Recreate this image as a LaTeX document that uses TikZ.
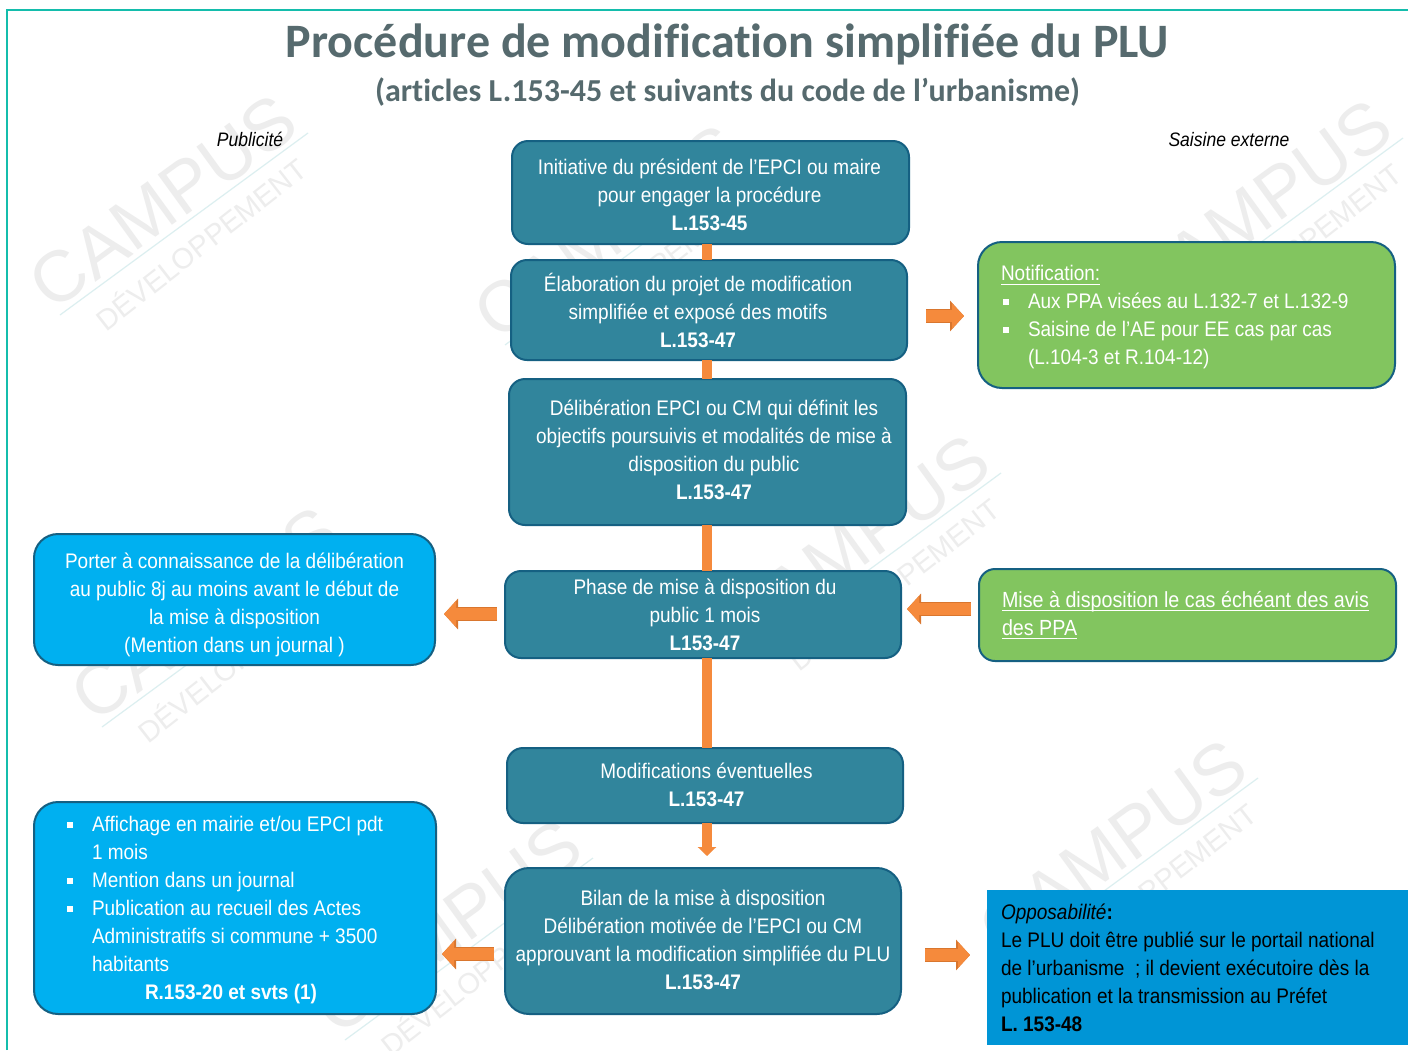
\documentclass[tikz,border=0pt]{standalone}
\usepackage{fontspec}
\usetikzlibrary{arrows.meta}
\setmainfont{Liberation Sans}[FakeStretch=0.9]
\newfontfamily\titlefont{Carlito}[Ligatures={NoCommon}]
\newfontfamily\plainsans{Liberation Sans}
\definecolor{frameteal}{HTML}{14BDAC}
\definecolor{boxteal}{HTML}{31859C}
\definecolor{boxedge}{HTML}{156082}
\definecolor{boxblue}{HTML}{00B0F0}
\definecolor{boxgreen}{HTML}{82C55F}
\definecolor{oppblue}{HTML}{0095D6}
\definecolor{arroworange}{HTML}{F58A3C}
\definecolor{arrowedge}{HTML}{D9762E}
\definecolor{titlegrey}{HTML}{566A6E}
\definecolor{wmgrey}{HTML}{EDEDED}
\definecolor{wmline}{HTML}{DCEFF0}
\newcommand\tb[3]{\hspace*{#1pt}\raisebox{\dimexpr-5.4pt-#2pt\relax}[0pt][0pt]{\begin{tabular}{@{}c@{}}#3\end{tabular}}}
\newcommand\sq{\makebox[27pt][l]{\hspace{2pt}\raisebox{4pt}{\rule{6pt}{6pt}}}}
\newcommand\ulin[1]{\leavevmode\hbox{\setbox0\hbox{#1}\rlap{\rule[-4pt]{\wd0}{1.2pt}}\box0}}
\newcommand\wmark[3]{%
  \begin{scope}[shift={(#2,#3)}]
    \node[wmbig] (wmc#1) at (163,202) {CAMPUS};
    \node[wmsmall] (wmd#1) at (200,243) {DÉVELOPPEMENT};
    \draw[wmline,line width=1.2pt] (60,315) -- (308,133);
  \end{scope}}
\tikzset{
  x=1pt,y=-1pt,
  every node/.style={inner sep=0pt,outer sep=0pt},
  wmbig/.style={font=\plainsans\fontsize{72}{72}\selectfont,text=wmgrey,rotate=36},
  wmsmall/.style={font=\plainsans\fontsize{29}{29}\selectfont,text=wmgrey,rotate=38},
  tealbox/.style={draw=boxedge,line width=2pt,fill=boxteal,rounded corners=16pt,text=white,font=\fontsize{21.1}{28}\selectfont},
  greenbox/.style={tealbox,fill=boxgreen,rounded corners=24pt},
  bluebox/.style={tealbox,fill=boxblue,rounded corners=24pt},
  spine/.style={draw=arroworange,line width=10pt},
  blockarrow/.style={draw=arroworange,line width=11.5pt,-{Triangle[length=12pt,width=25pt,fill=arroworange]},
    preaction={draw=arrowedge,line width=14pt,-{Triangle[length=14pt,width=30pt]}}},
  downarrow/.style={draw=arroworange,line width=10pt,-{Triangle[length=9pt,width=18pt,fill=arroworange]}},
}
\begin{document}
\begin{tikzpicture}
\useasboundingbox (0,0) rectangle (1408,1050);
\fill[white] (0,0) rectangle (1408,1050);
\wmark{a}{0}{0}
\wmark{b}{445}{30}
\wmark{c}{1095}{5}
\wmark{d}{42}{412}
\wmark{e}{693}{340}
\wmark{f}{285}{725}
\wmark{g}{950}{645}
\draw[frameteal,line width=1.5pt] (7,1050) -- (7,10) -- (1408,10);
\node[font=\titlefont\bfseries\fontsize{48}{48}\selectfont,text=titlegrey] (title) at (727.5,44) {Procédure de modification simplifiée du PLU};
\node[font=\titlefont\bfseries\fontsize{32}{32}\selectfont,text=titlegrey] (subtitle) at (727.5,92) {(articles L.153-45 et suivants du code de l’urbanisme)};
\node[font=\itshape\fontsize{19.5}{24}\selectfont] (pub) at (250,139) {Publicité};
\node[font=\itshape\fontsize{19.5}{24}\selectfont] (sais) at (1229,140) {Saisine externe};
\node[tealbox,minimum width=397pt,minimum height=103pt] (b1) at (710.5,192.5) {\tb{-2}{4}{Initiative du président de l’EPCI ou maire\\pour engager la procédure\\\textbf{L.153-45}}};
\node[tealbox,minimum width=396pt,minimum height=100pt] (b2) at (709,310) {\tb{-22}{4}{Élaboration du projet de modification\\simplifiée et exposé des motifs\\\textbf{L.153-47}}};
\node[tealbox,minimum width=397pt,minimum height=146pt] (b3) at (707.5,452) {\tb{13}{0}{Délibération EPCI ou CM qui définit les\\objectifs poursuivis et modalités de mise à\\disposition du public\\\textbf{L.153-47}}};
\node[tealbox,minimum width=396pt,minimum height=87pt] (b4) at (703,614.5) {\tb{4}{2}{Phase de mise à disposition du\\public 1 mois\\\textbf{L153-47}}};
\node[tealbox,minimum width=396pt,minimum height=75pt] (b5) at (705,785.5) {\tb{3}{1}{Modifications éventuelles\\\textbf{L.153-47}}};
\node[tealbox,rounded corners=24pt,minimum width=396pt,minimum height=146pt] (b6) at (703,941) {\tb{0}{0.5}{Bilan de la mise à disposition\\Délibération motivée de l’EPCI ou CM\\approuvant la modification simplifiée du PLU\\\textbf{L.153-47}}};
\node[bluebox,minimum width=401pt,minimum height=131pt] (l1) at (234.5,599.5) {\tb{0}{5}{Porter à connaissance de la délibération\\au public 8j au moins avant le début de\\la mise à disposition\\(Mention dans un journal )}};
\node[bluebox,text width=340pt,inner xsep=31pt,minimum height=212pt,align=flush left] (l2) at (235,908) {\rule{0pt}{20pt}\sq Affichage en mairie et/ou EPCI pdt\\\hspace*{27pt}1 mois\\\sq Mention dans un journal\\\sq Publication au recueil des Actes\\\hspace*{27pt}Administratifs si commune + 3500\\\hspace*{27pt}habitants\\\hspace*{80pt}\textbf{R.153-20 et svts (1)}};
\node[greenbox,text width=371pt,inner xsep=23pt,minimum height=146pt,align=flush left] (g1) at (1186.5,315) {\rule{0pt}{20pt}\ulin{Notification:}\\\sq Aux PPA visées au L.132-7 et L.132-9\\\sq Saisine de l’AE pour EE cas par cas\\\hspace*{27pt}(L.104-3 et R.104-12)};
\node[greenbox,rounded corners=16pt,font=\fontsize{21.9}{28}\selectfont,text width=371pt,inner xsep=23pt,minimum height=92pt,align=flush left] (g2) at (1187.5,615) {\ulin{Mise à disposition le cas échéant des avis}\\\ulin{des PPA}};
\node[fill=oppblue,text=black,font=\fontsize{21.1}{28}\selectfont,text width=393pt,inner xsep=14pt,minimum height=155pt,align=flush left] (opp) at (1197.5,967.5) {\textit{Opposabilité}\textbf{:}\\Le PLU doit être publié sur le portail national\\de l’urbanisme\ \ ; il devient exécutoire dès la\\publication et la transmission au Préfet\\\textbf{L. 153-48}};
\coordinate (sp) at (707,0);
\draw[spine] (b1.south -| sp) -- (b2.north -| sp);
\draw[spine] (b2.south -| sp) -- (b3.north -| sp);
\draw[spine] (b3.south -| sp) -- (b4.north -| sp);
\draw[spine] (b4.south -| sp) -- (b5.north -| sp);
\coordinate (d6) at (707,856);
\draw[downarrow] (b5.south -| sp) -- (d6);
\coordinate (a1s) at (926,316); \coordinate (a1e) at (964,316);
\coordinate (a2s) at (971,609); \coordinate (a2e) at (907,609);
\coordinate (a3s) at (497,614); \coordinate (a3e) at (444,614);
\coordinate (a4s) at (494,954); \coordinate (a4e) at (442,954);
\coordinate (a5s) at (925,955); \coordinate (a5e) at (970,955);
\draw[blockarrow] (a1s) -- (a1e);
\draw[blockarrow] (a2s) -- (a2e);
\draw[blockarrow] (a3s) -- (a3e);
\draw[blockarrow] (a4s) -- (a4e);
\draw[blockarrow] (a5s) -- (a5e);
\end{tikzpicture}
\end{document}
